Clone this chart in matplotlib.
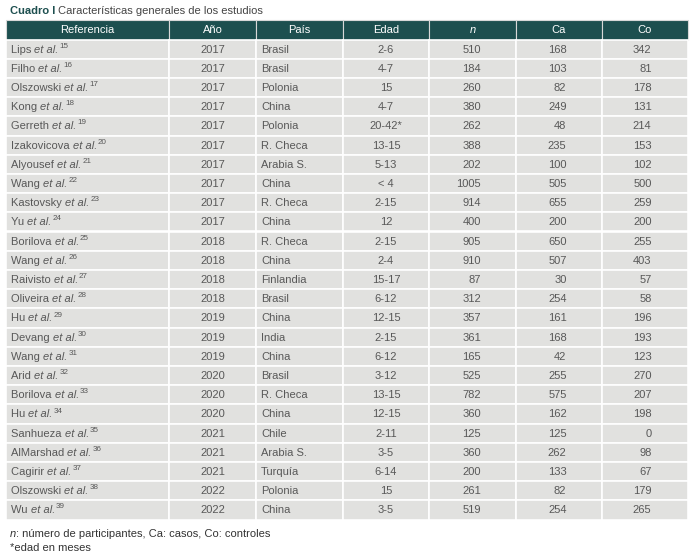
import matplotlib
matplotlib.use("Agg")
import matplotlib.pyplot as plt
from matplotlib.patches import Rectangle

plt.rcParams['font.family'] = ['Liberation Sans', 'DejaVu Sans']

headers = ["Referencia", "Año", "País", "Edad", "n", "Ca", "Co"]
autores = ["Lips", "Filho", "Olszowski", "Kong", "Gerreth", "Izakovicova", "Alyousef",
           "Wang", "Kastovsky", "Yu", "Borilova", "Wang", "Raivisto", "Oliveira", "Hu",
           "Devang", "Wang", "Arid", "Borilova", "Hu", "Sanhueza", "AlMarshad", "Cagirir",
           "Olszowski", "Wu"]
refs = list(range(15, 40))
anios = [2017] * 10 + [2018] * 4 + [2019] * 3 + [2020] * 3 + [2021] * 3 + [2022] * 2
paises = ["Brasil", "Brasil", "Polonia", "China", "Polonia", "R. Checa", "Arabia S.",
          "China", "R. Checa", "China", "R. Checa", "China", "Finlandia", "Brasil", "China",
          "India", "China", "Brasil", "R. Checa", "China", "Chile", "Arabia S.", "Turquía",
          "Polonia", "China"]
edades = ["2-6", "4-7", "15", "4-7", "20-42*", "13-15", "5-13", "< 4", "2-15", "12",
          "2-15", "2-4", "15-17", "6-12", "12-15", "2-15", "6-12", "3-12", "13-15", "12-15",
          "2-11", "3-5", "6-14", "15", "3-5"]
n_vals = [510, 184, 260, 380, 262, 388, 202, 1005, 914, 400, 905, 910, 87, 312, 357,
          361, 165, 525, 782, 360, 125, 360, 200, 261, 519]
ca_vals = [168, 103, 82, 249, 48, 235, 100, 505, 655, 200, 650, 507, 30, 254, 161,
           168, 42, 255, 575, 162, 125, 262, 133, 82, 254]
co_vals = [342, 81, 178, 131, 214, 153, 102, 500, 259, 200, 255, 403, 57, 58, 196,
           193, 123, 270, 207, 198, 0, 98, 67, 179, 265]

W, H = 698, 559
fig = plt.figure(figsize=(W / 100, H / 100), dpi=100)
ax = fig.add_axes([0, 0, 1, 1])
ax.set_xlim(0, W)
ax.set_ylim(H, 0)
ax.axis('off')
renderer = fig.canvas.get_renderer()

teal = '#1d4f4f'
cell = '#e1e1df'
txt = '#585858'
fs = 8.0


def width_of(t):
    return t.get_window_extent(renderer=renderer).width


col_x = [6, 169, 256, 343, 429, 516, 602, 688]
top = 20.0
hh = 19.5
rh = (519.5 - (top + hh)) / len(autores)

# title
t1 = ax.text(10, 10.5, "Cuadro I", fontsize=fs, fontweight='bold', color=teal,
             va='center', ha='left')
ax.text(10 + width_of(t1) + 2.5, 10.5, "Características generales de los estudios",
        fontsize=fs, color='#444444', va='center', ha='left')

# header
for j, h in enumerate(headers):
    x0, x1 = col_x[j], col_x[j + 1]
    ax.add_patch(Rectangle((x0, top), x1 - x0, hh, facecolor=teal,
                           edgecolor='#d8d8d8', linewidth=0.8))
    ax.text((x0 + x1) / 2, top + hh / 2 + 0.5, h, fontsize=fs, color='white',
            ha='center', va='center', fontstyle='italic' if h == "n" else 'normal')

# body
right_off = [None, None, None, None, 8.5, 7.5, 6.5]
for i in range(len(autores)):
    y0 = top + hh + i * rh
    yc = y0 + rh / 2 + 0.5
    for j in range(7):
        x0, x1 = col_x[j], col_x[j + 1]
        ax.add_patch(Rectangle((x0, y0), x1 - x0, rh, facecolor=cell,
                               edgecolor='white', linewidth=1.2))
    xa = col_x[0] + 5
    ta = ax.text(xa, yc, autores[i] + " ", fontsize=fs, color=txt, ha='left', va='center')
    xb = xa + width_of(ta)
    tb = ax.text(xb, yc, "et al.", fontsize=fs, fontstyle='italic', color=txt,
                 ha='left', va='center')
    xc = xb + width_of(tb) + 0.8
    ax.text(xc, yc - 3.4, str(refs[i]), fontsize=fs * 0.72, color=txt, ha='left',
            va='center')
    ax.text((col_x[1] + col_x[2]) / 2, yc, str(anios[i]), fontsize=fs, color=txt,
            ha='center', va='center')
    ax.text(col_x[2] + 5, yc, paises[i], fontsize=fs, color=txt, ha='left', va='center')
    ax.text((col_x[3] + col_x[4]) / 2, yc, edades[i], fontsize=fs, color=txt,
            ha='center', va='center')
    for j, vals in zip([4, 5, 6], [n_vals, ca_vals, co_vals]):
        xr = (col_x[j] + col_x[j + 1]) / 2 + right_off[j]
        ax.text(xr, yc, str(vals[i]), fontsize=fs, color=txt, ha='right', va='center')

# footer
tn = ax.text(10, 534, "n", fontsize=fs, fontstyle='italic', color='#333333',
             ha='left', va='center')
ax.text(10 + width_of(tn), 534, ": número de participantes, Ca: casos, Co: controles",
        fontsize=fs, color='#333333', ha='left', va='center')
ax.text(10, 548, "*edad en meses", fontsize=fs, color='#333333', ha='left', va='center')

fig.savefig("out.png", dpi=100)
